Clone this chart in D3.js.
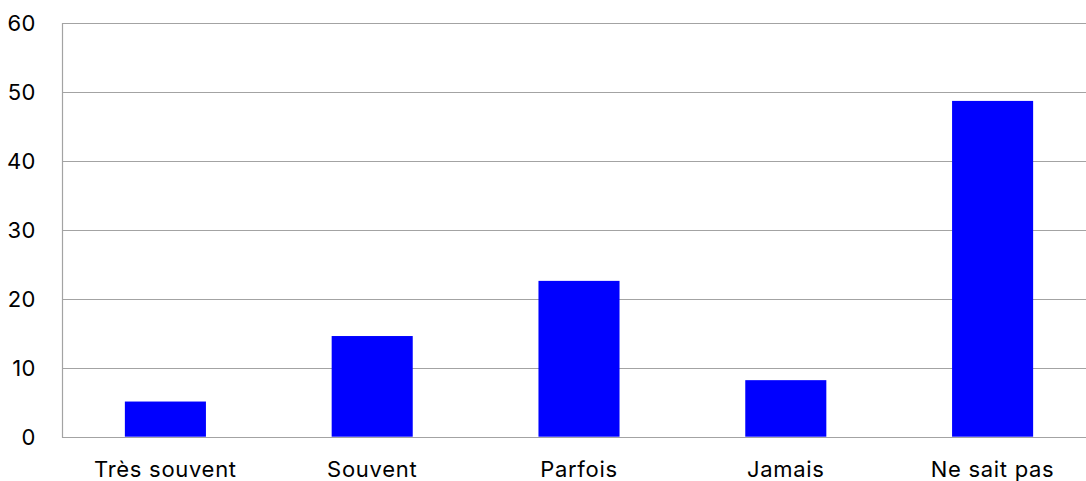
<!DOCTYPE html>
<html><head><meta charset="utf-8">
<script src="https://cdn.jsdelivr.net/npm/d3@7"></script>
<style>
html,body{margin:0;padding:0;background:#fff;overflow:hidden;}
text{font-family:"Inter","Liberation Sans",sans-serif;fill:#000;}
</style></head>
<body><svg id="c" width="1086" height="481"></svg>
<script>
const categories = ["Très souvent", "Souvent", "Parfois", "Jamais", "Ne sait pas"];
const values = [5.1, 14.6, 22.6, 8.2, 48.7];
const yTicks = [0, 10, 20, 30, 40, 50, 60];

const svg = d3.select("#c");
const m = {left: 62, top: 23, bottom: 44};
const H = 481, plotRight = 1096;
const x = d3.scaleBand().domain(categories).range([m.left, plotRight]).padding(0);
const y = d3.scaleLinear().domain([0, 60]).range([H - m.bottom - 0.3, m.top]);

// gridlines
svg.append("g").selectAll("line").data(yTicks).join("line")
  .attr("x1", m.left).attr("x2", plotRight)
  .attr("y1", d => Math.round(y(d)) + 0.5).attr("y2", d => Math.round(y(d)) + 0.5)
  .attr("stroke", "#a3a3a3").attr("stroke-width", 1.2);

// left axis line
svg.append("line")
  .attr("x1", m.left + 0.5).attr("x2", m.left + 0.5)
  .attr("y1", y(60)).attr("y2", y(0) + 1)
  .attr("stroke", "#a3a3a3").attr("stroke-width", 1.2);

// bars
const bw = x.bandwidth() * 0.392;
svg.append("g").selectAll("rect").data(values).join("rect")
  .attr("x", (d, i) => x(categories[i]) + (x.bandwidth() - bw) / 2)
  .attr("width", bw)
  .attr("y", d => y(d))
  .attr("height", d => y(0) - y(d))
  .attr("fill", "#0000ff");

// y tick labels
const yAxis = d3.axisLeft(y).tickValues(yTicks).tickSize(0).tickPadding(26).tickFormat(d3.format("d"));
const ga = svg.append("g").attr("transform", `translate(${m.left},0)`).call(yAxis);
ga.select(".domain").remove();
ga.selectAll("text").attr("font-size", 22).style("letter-spacing", "0.5px")
  .style("font-family", '"Inter","Liberation Sans",sans-serif').attr("fill", "#000").attr("dy", "0.36em");

// x labels
const xAxis = d3.axisBottom(x).tickSize(0).tickPadding(25);
const gx = svg.append("g").attr("transform", `translate(0,${y(0)})`).call(xAxis);
gx.select(".domain").remove();
gx.selectAll("text").attr("font-size", 22).style("letter-spacing", "0.7px")
  .style("font-family", '"Inter","Liberation Sans",sans-serif').attr("fill", "#000");
</script></body></html>
